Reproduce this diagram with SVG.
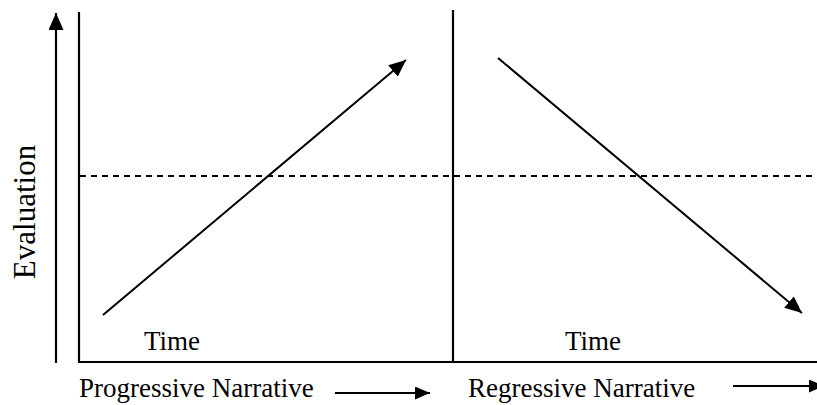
<svg xmlns="http://www.w3.org/2000/svg" width="817" height="405" viewBox="0 0 817 405">
<style>
.ln{stroke:#000;stroke-width:2;fill:none}
.ax{stroke:#000;stroke-width:2.2;fill:none}
.dash{stroke:#000;stroke-width:2;stroke-dasharray:6 5;fill:none}
.t{font-family:"Liberation Serif","Times New Roman",serif;font-size:27px;fill:#000}
</style>
<defs>
<marker id="ahBig" viewBox="0 0 17 15" markerWidth="17" markerHeight="15" refX="17" refY="7.5" orient="auto" markerUnits="userSpaceOnUse">
<path d="M0,0 L17,7.5 L0,15 Z" fill="#000"/>
</marker>
<marker id="ahSmall" viewBox="0 0 15 13" markerWidth="15" markerHeight="13" refX="15" refY="6.5" orient="auto" markerUnits="userSpaceOnUse">
<path d="M0,0 L15,6.5 L0,13 Z" fill="#000"/>
</marker>
</defs>
<rect width="817" height="405" fill="#fff"/>
<g id="frame">
<line class="ax" x1="79" y1="12" x2="79" y2="362"/>
<line class="ax" x1="78" y1="362" x2="817" y2="362"/>
<line class="ax" x1="453" y1="10" x2="453" y2="362"/>
<line class="dash" x1="80" y1="176" x2="817" y2="176"/>
</g>
<g id="connectors">
<line class="ax" x1="56" y1="363" x2="56" y2="13" marker-end="url(#ahBig)"/>
<line class="ln" x1="103" y1="315" x2="406" y2="60" marker-end="url(#ahBig)"/>
<line class="ln" x1="498" y1="58" x2="802" y2="313" marker-end="url(#ahBig)"/>
<line class="ln" x1="335" y1="393" x2="430" y2="393" marker-end="url(#ahSmall)"/>
<line class="ln" x1="733" y1="386" x2="824" y2="386" marker-end="url(#ahSmall)"/>
</g>
<g id="evaluation-label">
<text class="t" style="font-size:31px" transform="translate(35,212) rotate(-90)" text-anchor="middle">Evaluation</text>
</g>
<g id="time-left"><text class="t" x="144" y="350">Time</text></g>
<g id="time-right"><text class="t" x="565" y="350">Time</text></g>
<g id="progressive"><text class="t" x="79" y="397">Progressive Narrative</text></g>
<g id="regressive"><text class="t" x="468" y="397">Regressive Narrative</text></g>
</svg>
